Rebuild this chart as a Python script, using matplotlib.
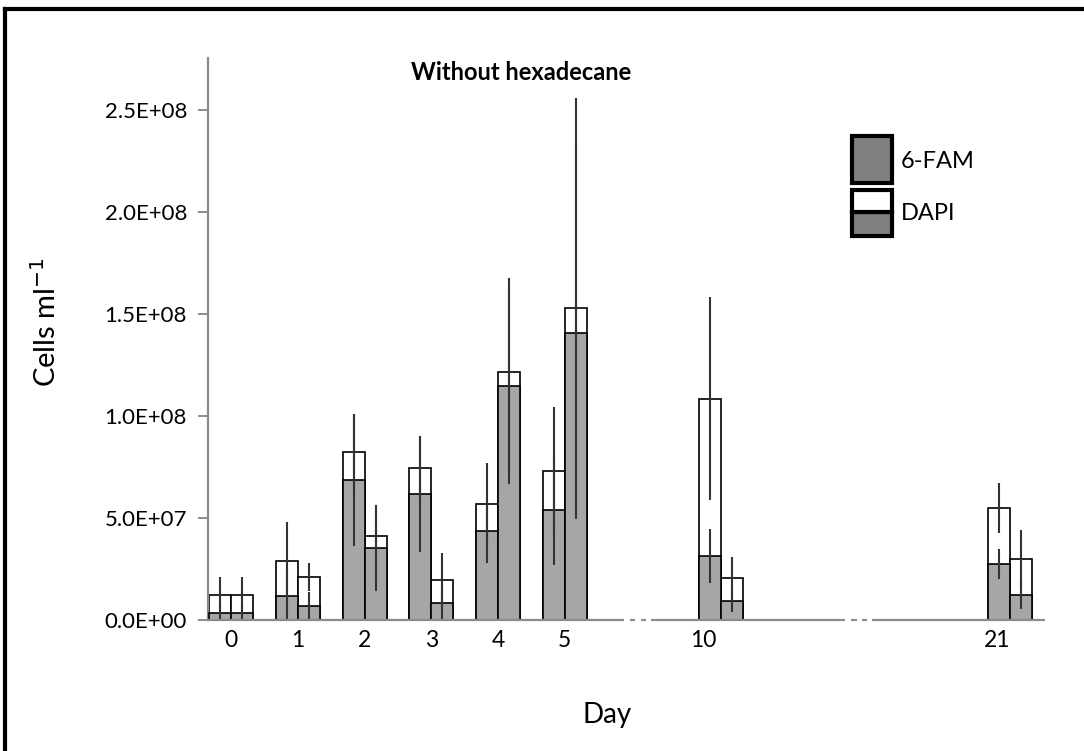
import numpy as np
import matplotlib
matplotlib.use('Agg')
import matplotlib.pyplot as plt
from matplotlib.patches import Rectangle
from matplotlib.lines import Line2D

plt.rcParams['font.family'] = ['Lato', 'DejaVu Sans']

# Sampling days and cell counts (cells per ml), two replicate bars per day
days = ['0', '1', '2', '3', '4', '5', '10', '21']
dapi_a = [1.23e7, 2.89e7, 8.24e7, 7.45e7, 5.70e7, 7.32e7, 1.085e8, 5.50e7]
fam_a = [3.6e6, 1.18e7, 6.86e7, 6.18e7, 4.38e7, 5.38e7, 3.15e7, 2.73e7]
dapi_a_err = [8.7e6, 1.91e7, 1.86e7, 1.57e7, 2.0e7, 3.10e7, 4.99e7, 1.23e7]
fam_a_err = [3.6e6, 1.2e7, 3.24e7, 2.84e7, 1.57e7, 2.66e7, 1.32e7, 7.3e6]
dapi_b = [1.23e7, 2.09e7, 4.12e7, 1.96e7, 1.218e8, 1.528e8, 2.07e7, 3.0e7]
fam_b = [3.6e6, 6.9e6, 3.53e7, 8.3e6, 1.148e8, 1.406e8, 9.3e6, 1.23e7]
dapi_b_err = [8.7e6, 6.9e6, 1.23e7, 1.32e7, 4.59e7, 1.031e8, 1.0e7, 1.42e7]
fam_b_err = [3.6e6, 6.9e6, 2.1e7, 8.3e6, 4.82e7, 9.12e7, 5.4e6, 7.0e6]

# where each day's pair of bars sits on the (broken) category axis
group_pos = np.array([0, 1, 2, 3, 4, 5, 7.335, 11.676])
label_pos = [0, 1, 2, 3, 4, 5, 7.07, 11.48]
yticks = [0, 5e7, 1e8, 1.5e8, 2e8, 2.5e8]
ytick_labels = ['0.0E+00', '5.0E+07', '1.0E+08', '1.5E+08', '2.0E+08', '2.5E+08']

bar_gray = '#a6a6a6'
axis_gray = '#8c8c8c'
err_col = '#333333'
w = 0.33

fig = plt.figure(figsize=(10.84, 7.51), dpi=100)
ax = fig.add_axes([0.19188, 0.17443, 0.77214, 0.74834])

for off, dapi, fam, de, fe in [(-w / 2, dapi_a, fam_a, dapi_a_err, fam_a_err),
                               (w / 2, dapi_b, fam_b, dapi_b_err, fam_b_err)]:
    x = group_pos + off
    ax.bar(x, dapi, width=w, color='white', edgecolor='black', linewidth=1.2, zorder=2)
    ax.bar(x, fam, width=w, color=bar_gray, edgecolor='black', linewidth=1.2, zorder=3)
    dapi = np.array(dapi)
    fam = np.array(fam)
    ax.vlines(x, np.clip(dapi - np.array(de), 0, None), dapi + np.array(de),
              color=err_col, linewidth=1.5, zorder=4)
    ax.vlines(x, np.clip(fam - np.array(fe), 0, None), fam + np.array(fe),
              color=err_col, linewidth=1.5, zorder=4)

ax.set_xlim(-0.35, 12.2)
ax.set_ylim(0, 2.755e8)
ax.set_yticks(yticks)
ax.set_yticklabels(ytick_labels)
ax.set_xticks(label_pos)
ax.set_xticklabels(days)
ax.tick_params(axis='x', length=0, pad=7, labelsize=16.5)
ax.tick_params(axis='y', length=7, width=1.4, color=axis_gray, pad=8, labelsize=16)

for s in ['top', 'right', 'bottom']:
    ax.spines[s].set_visible(False)
ax.spines['left'].set_color(axis_gray)
ax.spines['left'].set_linewidth(1.6)

# x axis drawn in pieces with break marks at the skipped days
segments = [(-0.35, 5.885), (6.29, 9.2), (9.6, 12.2)]
dashes = [(5.975, 6.05), (6.14, 6.22), (9.29, 9.38), (9.46, 9.53)]
for a, b in segments + dashes:
    ax.plot([a, b], [0, 0], color=axis_gray, linewidth=1.6, clip_on=False,
            solid_capstyle='butt', zorder=5)

ax.set_ylabel('Cells ml$^{-1}$', fontsize=21)
ax.yaxis.set_label_coords(-0.176, 0.53)
fig.text(0.56, 0.048, 'Day', ha='center', va='center', fontsize=20)
fig.text(0.481, 0.904, 'Without hexadecane', ha='center', va='center',
         fontsize=17, fontweight='bold')

# legend boxes
fig.patches.append(Rectangle((852 / 1084, 1 - 183 / 751), 40 / 1084, 47 / 751,
                             transform=fig.transFigure, facecolor='#808080',
                             edgecolor='black', linewidth=3))
fig.patches.append(Rectangle((852 / 1084, 1 - 236 / 751), 40 / 1084, 24 / 751,
                             transform=fig.transFigure, facecolor='#808080',
                             edgecolor='black', linewidth=3))
fig.patches.append(Rectangle((852 / 1084, 1 - 212 / 751), 40 / 1084, 22 / 751,
                             transform=fig.transFigure, facecolor='white',
                             edgecolor='black', linewidth=3))
fig.text(901 / 1084, 1 - 162 / 751, '6-FAM', va='center', fontsize=17)
fig.text(901 / 1084, 1 - 214 / 751, 'DAPI', va='center', fontsize=17)

# outer frame
fig.lines.append(Line2D([5 / 1084, 5 / 1084], [0, 1 - 8.5 / 751], transform=fig.transFigure,
                        color='black', linewidth=3))
fig.lines.append(Line2D([5 / 1084, 1], [1 - 8.5 / 751, 1 - 8.5 / 751], transform=fig.transFigure,
                        color='black', linewidth=3))

fig.savefig('out.png', dpi=100)
